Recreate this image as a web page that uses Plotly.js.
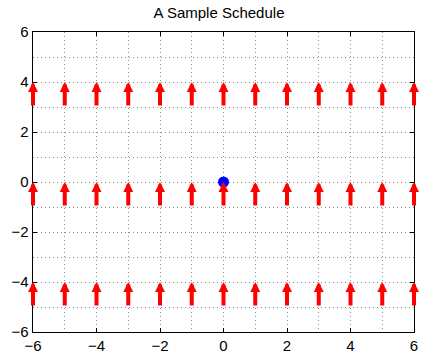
<!DOCTYPE html>
<html><head><meta charset="utf-8">
<script src="https://cdn.plot.ly/plotly-3.0.1.min.js"></script>
<style>html,body{margin:0;padding:0;background:#fff;}#chart{width:422px;height:358px;}</style>
</head><body><div id="chart"></div>
<script>
const arrowX = [-6,-5,-4,-3,-2,-1,0,1,2,3,4,5,6];
const arrowBase = [3, -1, -5];
const arrowTip = [4, 0, -4];
const pointX = [0];
const pointY = [0];
const tickVals = [-6,-4,-2,0,2,4,6];

const annotations = [];
arrowBase.forEach((b, i) => {
  arrowX.forEach(x => {
    annotations.push({
      x: x, y: arrowTip[i], ax: x, ay: b,
      xref: 'x', yref: 'y', axref: 'x', ayref: 'y',
      text: '', showarrow: true, arrowhead: 2, arrowsize: 0.5,
      arrowwidth: 4, arrowcolor: '#ff0000', standoff: 0, startstandoff: 0
    });
  });
});

const gridDash = '1px,3px';
const axisCommon = {
  range: [-6, 6], tickvals: tickVals, showline: true, linecolor: '#000', linewidth: 1.3,
  mirror: 'ticks', ticks: 'inside', ticklen: 4, tickcolor: '#000', zeroline: false,
  showgrid: true, gridcolor: '#8c8c8c', griddash: gridDash, gridwidth: 1,
  minor: {dtick: 1, tick0: 0, showgrid: true, gridcolor: '#8c8c8c', griddash: gridDash, gridwidth: 1, ticks: ''},
  tickfont: {family: 'Liberation Sans, Arial, sans-serif', size: 15, color: '#000'},
  fixedrange: true
};

Plotly.newPlot('chart', [{
  x: pointX, y: pointY, type: 'scatter', mode: 'markers',
  marker: {color: '#0000ff', size: 11}, hoverinfo: 'skip', cliponaxis: false
}], {
  width: 422, height: 358,
  margin: {l: 33, r: 8, t: 32, b: 26},
  paper_bgcolor: '#fff', plot_bgcolor: '#fff',
  showlegend: false,
  title: {text: 'A Sample Schedule', x: 0.519, xanchor: 'center', y: 0.963, yanchor: 'middle',
          font: {family: 'Liberation Sans, Arial, sans-serif', size: 15, color: '#000'}},
  xaxis: Object.assign({}, axisCommon),
  yaxis: Object.assign({}, axisCommon),
  annotations: annotations
}, {staticPlot: true});
</script></body></html>
